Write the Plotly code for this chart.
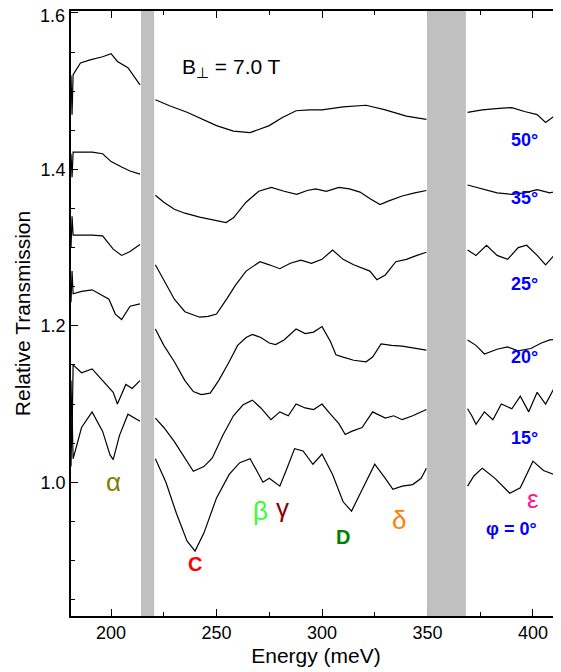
import plotly.graph_objects as go

E0 = [181, 181.5, 182, 186, 191, 196, 199.5, 201, 204, 208, 213.7, None,
      221, 226, 231, 236, 239.8, 244, 250, 256, 261, 265.9, 269, 272, 275, 280, 283, 287, 291, 295.7, 300, 305, 310, 314, 318, 325, 330, 333.6, 338, 343, 347, 349.5, None,
      369, 372, 376, 382, 389, 394, 400, 405, 410, 413]
T0 = [1.02, 1.09, 1.03, 1.07, 1.09, 1.065, 1.035, 1.029, 1.06, 1.087, 1.078, None,
      1.03, 1.0, 0.96, 0.925, 0.912, 0.935, 0.98, 1.01, 1.025, 1.03, 1.015, 1.0, 1.005, 0.995, 1.015, 1.043, 1.04, 1.023, 1.036, 1.01, 0.975, 0.963, 0.985, 1.023, 1.005, 0.991, 0.995, 0.997, 1.005, 1.018, None,
      0.995, 1.008, 1.018, 1.005, 0.986, 0.993, 1.027, 1.015, 1.01, 1.005]
E15 = [181, 181.5, 182, 186, 191, 196, 201, 203, 207, 210, 213.7, None,
       221, 225, 230, 235, 239, 244, 248, 253, 258, 262.6, 267, 271, 275.8, 280, 284, 287.7, 292, 296, 300, 304, 308, 311, 314, 319, 324, 330, 334, 338, 343, 349.5, None,
       369, 371, 373, 377, 381, 385, 390, 394, 398, 402, 406, 410, 413]
T15 = [1.13, 1.06, 1.15, 1.14, 1.145, 1.13, 1.115, 1.10, 1.125, 1.12, 1.13, None,
       1.082, 1.07, 1.052, 1.03, 1.014, 1.02, 1.031, 1.06, 1.085, 1.099, 1.105, 1.095, 1.08, 1.09, 1.085, 1.10, 1.095, 1.093, 1.10, 1.087, 1.075, 1.061, 1.065, 1.07, 1.09, 1.082, 1.085, 1.08, 1.085, 1.093, None,
       1.094, 1.085, 1.074, 1.09, 1.08, 1.1, 1.094, 1.11, 1.09, 1.115, 1.10, 1.12, 1.107]
E20 = [181, 181.5, 182, 186, 191, 195, 199, 202, 205, 209, 213.7, None,
       221, 225, 230, 235, 239, 242.7, 247, 251, 256, 260, 264, 267, 271, 275, 278, 282, 287.7, 292, 296, 300, 304, 306.6, 310, 315, 320.9, 324, 328, 333, 338, 344, 349.5, None,
       369, 373, 377, 383, 388, 393, 399, 404, 408, 413]
T20 = [1.23, 1.27, 1.241, 1.244, 1.246, 1.24, 1.234, 1.215, 1.208, 1.225, 1.228, None,
       1.196, 1.175, 1.154, 1.13, 1.116, 1.112, 1.114, 1.13, 1.154, 1.175, 1.185, 1.189, 1.185, 1.178, 1.176, 1.182, 1.196, 1.19, 1.192, 1.199, 1.18, 1.163, 1.16, 1.156, 1.154, 1.16, 1.177, 1.175, 1.174, 1.171, 1.169, None,
       1.182, 1.175, 1.164, 1.17, 1.173, 1.168, 1.171, 1.178, 1.182, 1.183]
E25 = [181, 181.5, 182, 186, 191, 196, 201, 205, 209, 213.7, None,
       221, 225, 230, 235, 242, 246, 250, 255, 259, 264, 270.6, 275, 280, 285, 290, 295, 300, 305, 310, 315, 322.7, 326, 330, 335, 340, 345, 349.5, None,
       369, 373, 378, 383, 388, 393, 397, 402, 406, 410, 413]
T25 = [1.30, 1.34, 1.316, 1.316, 1.316, 1.315, 1.298, 1.29, 1.295, 1.304, None,
       1.278, 1.258, 1.234, 1.218, 1.211, 1.212, 1.215, 1.235, 1.252, 1.27, 1.282, 1.278, 1.273, 1.28, 1.284, 1.28, 1.285, 1.297, 1.285, 1.278, 1.27, 1.259, 1.265, 1.282, 1.285, 1.29, 1.294, None,
       1.297, 1.29, 1.303, 1.29, 1.285, 1.30, 1.303, 1.29, 1.278, 1.29, 1.294]
E35 = [181, 181.5, 182, 186, 191, 196, 200, 205, 209, 213.7, None,
       221, 225, 230, 235, 242, 249, 254.5, 258, 264, 270, 276, 282, 288, 293, 297, 302, 308, 313, 318, 323, 327.5, 332, 338, 344, 349.5, None,
       369, 376, 383, 390, 396, 402, 408, 413]
T35 = [1.42, 1.39, 1.422, 1.422, 1.422, 1.42, 1.41, 1.403, 1.398, 1.394, None,
       1.367, 1.358, 1.349, 1.344, 1.339, 1.335, 1.332, 1.338, 1.358, 1.372, 1.377, 1.372, 1.368, 1.373, 1.375, 1.372, 1.377, 1.375, 1.371, 1.362, 1.355, 1.36, 1.366, 1.37, 1.373, None,
       1.38, 1.375, 1.37, 1.368, 1.37, 1.374, 1.37, 1.373]
E50 = [181, 181.5, 182, 185.5, 190, 196, 200, 203, 208, 213.7, None,
       221, 228, 236, 243, 250, 258, 265.9, 270, 275, 281, 287.7, 294, 300, 310, 320.9, 330, 340, 349.5, None,
       369, 376, 384, 390, 396, 402, 406, 410, 413]
T50 = [1.52, 1.47, 1.521, 1.536, 1.54, 1.544, 1.548, 1.538, 1.53, 1.508, None,
       1.489, 1.481, 1.473, 1.464, 1.456, 1.449, 1.447, 1.451, 1.456, 1.466, 1.475, 1.476, 1.476, 1.48, 1.482, 1.476, 1.468, 1.464, None,
       1.473, 1.476, 1.478, 1.479, 1.474, 1.47, 1.46, 1.468, 1.48]

y_ticks = [1.0, 1.2, 1.4, 1.6]

angle_labels = ["50°", "35°", "25°", "20°", "15°", "φ = 0°"]
angle_x = [396, 396, 396, 396, 396, 390]
angle_y = [1.438, 1.364, 1.254, 1.16, 1.057, 0.94]

peak_labels = ["α", "C", "β", "γ", "D", "δ", "ε"]
peak_x = [201, 239.8, 271, 281.5, 310, 336.5, 400]
peak_y = [1.0, 0.895, 0.963, 0.967, 0.93, 0.952, 0.978]
peak_colors = ["#808000", "#ff0000", "#33ff33", "#8b0000", "#008000", "#ff8000", "#ff1493"]
peak_bold = [False, True, False, False, True, False, False]

FONT = "Liberation Sans"
fig = go.Figure()
for E, T in [(E0, T0), (E15, T15), (E20, T20), (E25, T25), (E35, T35), (E50, T50)]:
    fig.add_trace(go.Scatter(x=E, y=T, mode="lines", line=dict(color="black", width=1.2),
                             connectgaps=False, showlegend=False))

for x0, x1 in [(214.2, 220.4), (349.8, 368.2)]:
    fig.add_shape(type="rect", xref="x", yref="paper", x0=x0, x1=x1, y0=0, y1=1,
                  fillcolor="#c0c0c0", line_width=0, layer="above")

for t, x, y in zip(angle_labels, angle_x, angle_y):
    fig.add_annotation(x=x, y=y, text=f"<b>{t}</b>", showarrow=False,
                       font=dict(color="#0000ff", size=18, family=FONT))
for t, x, y, c, b in zip(peak_labels, peak_x, peak_y, peak_colors, peak_bold):
    fig.add_annotation(x=x, y=y, text=f"<b>{t}</b>" if b else t, showarrow=False,
                       font=dict(color=c, size=26 if not b else 20, family=FONT))
fig.add_annotation(x=257, y=1.53, text="B<sub>⊥</sub> = 7.0 T", showarrow=False,
                   font=dict(color="black", size=21, family=FONT))
# top tick label drawn as annotation so it is not clipped at the page edge
fig.add_annotation(xref="paper", x=0, xanchor="right", xshift=-4, y=y_ticks[-1], yanchor="top", yshift=9,
                   text=f"{y_ticks[-1]:.1f}", showarrow=False, font=dict(size=18, family=FONT, color="black"))

axis_common = dict(showline=True, linecolor="black", linewidth=1.5, mirror="ticks",
                   ticks="inside", ticklen=7, tickcolor="black", showgrid=False, zeroline=False,
                   tickfont=dict(size=18, family=FONT, color="black"))
fig.update_xaxes(range=[181, 413.3], tickvals=[200, 250, 300, 350, 400],
                 minor=dict(ticks="inside", ticklen=4, dtick=25, tick0=200, tickcolor="black"),
                 title=dict(text="Energy (meV)", font=dict(size=21, family=FONT, color="black"), standoff=6),
                 **axis_common)
fig.update_yaxes(range=[0.829, 1.6025], tickvals=y_ticks, ticktext=["1.0", "1.2", "1.4", ""],
                 minor=dict(ticks="inside", ticklen=4, dtick=0.05, tick0=1.0, tickcolor="black"),
                 title=dict(text="Relative Transmission", font=dict(size=21, family=FONT, color="black"), standoff=4),
                 **axis_common)
fig.update_layout(width=561, height=672, margin=dict(l=63, r=8, t=1, b=64),
                  plot_bgcolor="white", paper_bgcolor="white")
fig.write_html("out.html")
